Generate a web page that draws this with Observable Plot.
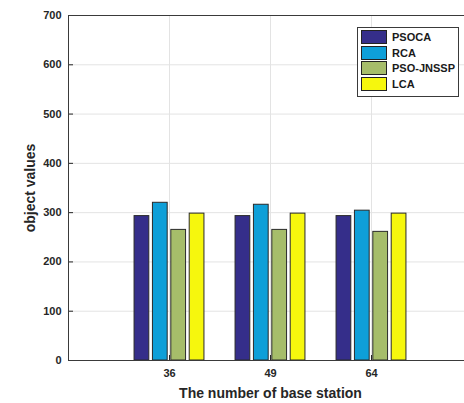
<!DOCTYPE html>
<html>
<head>
<meta charset="utf-8">
<script src="https://cdn.jsdelivr.net/npm/d3@7"></script>
<script src="https://cdn.jsdelivr.net/npm/@observablehq/plot@0.6"></script>
<style>
  html, body { margin: 0; padding: 0; background: #fff; overflow: hidden; }
  #wrap { position: relative; width: 464px; height: 403px; }
  .legend { position: absolute; left: 357px; top: 27px; width: 102px; height: 70px;
    border: 1px solid #3a3a3a; background: #fff; box-sizing: border-box;
    font: bold 11px "Liberation Sans", Arial, sans-serif; color: #1a1a1a; }
  .row { position: absolute; left: 3px; height: 14px; display: flex; align-items: center; }
  .sw { width: 26px; height: 14px; border: 1px solid #222; box-sizing: border-box; margin-right: 5px; }
</style>
</head>
<body>
<div id="wrap"></div>
<script>
const categories = ["36", "49", "64"];
const seriesNames = ["PSOCA", "RCA", "PSO-JNSSP", "LCA"];
const PSOCA = [293, 293, 293];
const RCA = [320, 316, 304];
const PSO_JNSSP = [265, 265, 261];
const LCA = [298, 298, 298];
const seriesColors = ["#352e8a", "#0e9fd8", "#a6bd6a", "#f6f70d"];
const yTicks = [0, 100, 200, 300, 400, 500, 600, 700];

const seriesValues = [PSOCA, RCA, PSO_JNSSP, LCA];
const data = [];
categories.forEach((c, i) => {
  seriesNames.forEach((s, j) => {
    data.push({cat: c, gi: i + 1, si: j, series: s, value: seriesValues[j][i]});
  });
});
const pitch = 0.182, bw = 0.146;

const font = '"Liberation Sans", Arial, sans-serif';
const ink = "#262626";

const chart = Plot.plot({
  width: 464,
  height: 403,
  marginLeft: 68,
  marginRight: 0,
  marginTop: 15,
  marginBottom: 43,
  style: {fontFamily: font, fontWeight: "bold", fontSize: "11px", color: ink, background: "#fff"},
  x: {domain: [0, 4], range: [68, 472], axis: null, label: null},
  y: {domain: [0, 700], axis: null, label: null},
  color: {domain: seriesNames, range: seriesColors},
  marks: [
    Plot.gridY(yTicks.slice(1, -1), {stroke: "#e3e3e3", strokeOpacity: 1}),
    Plot.gridX([1, 2, 3], {stroke: "#e3e3e3", strokeOpacity: 1}),
    Plot.rectY(data, {
      x1: d => d.gi + (d.si - 1.5) * pitch - bw / 2,
      x2: d => d.gi + (d.si - 1.5) * pitch + bw / 2,
      y1: 0,
      y2: "value",
      fill: "series",
      stroke: "#2a2a2a",
      strokeWidth: 1
    }),
    Plot.axisY(yTicks, {tickSize: 0, tickPadding: 7, label: null, fill: ink, fontSize: 11, fontWeight: "bold"}),
    Plot.axisY(yTicks, {tickSize: -5, text: null, label: null, stroke: ink}),
    Plot.axisX([1, 2, 3], {tickSize: 0, tickPadding: 9, label: null, tickFormat: d => categories[d - 1], fill: ink, fontSize: 11, fontWeight: "bold"}),
    Plot.axisX([1, 2, 3], {tickSize: -5, text: null, label: null, stroke: ink}),
    Plot.ruleY([0, 700], {stroke: "#3a3a3a"}),
    Plot.ruleX([0], {stroke: "#3a3a3a"}),
    Plot.text(["The number of base station"], {x: () => 2, frameAnchor: "bottom", dy: 33, textAnchor: "middle", lineAnchor: "middle", fontSize: 14, fontWeight: "bold", fill: ink}),
    Plot.text(["object values"], {frameAnchor: "left", dx: -38, rotate: -90, textAnchor: "middle", lineAnchor: "middle", fontSize: 14, fontWeight: "bold", fill: ink})
  ]
});

const wrap = document.getElementById("wrap");
wrap.appendChild(chart);

const legend = document.createElement("div");
legend.className = "legend";
seriesNames.forEach((s, j) => {
  const row = document.createElement("div");
  row.className = "row";
  row.style.top = (2 + j * 15.7) + "px";
  const sw = document.createElement("div");
  sw.className = "sw";
  sw.style.background = seriesColors[j];
  const t = document.createElement("span");
  t.textContent = s;
  row.appendChild(sw);
  row.appendChild(t);
  legend.appendChild(row);
});
wrap.appendChild(legend);
</script>
</body>
</html>
